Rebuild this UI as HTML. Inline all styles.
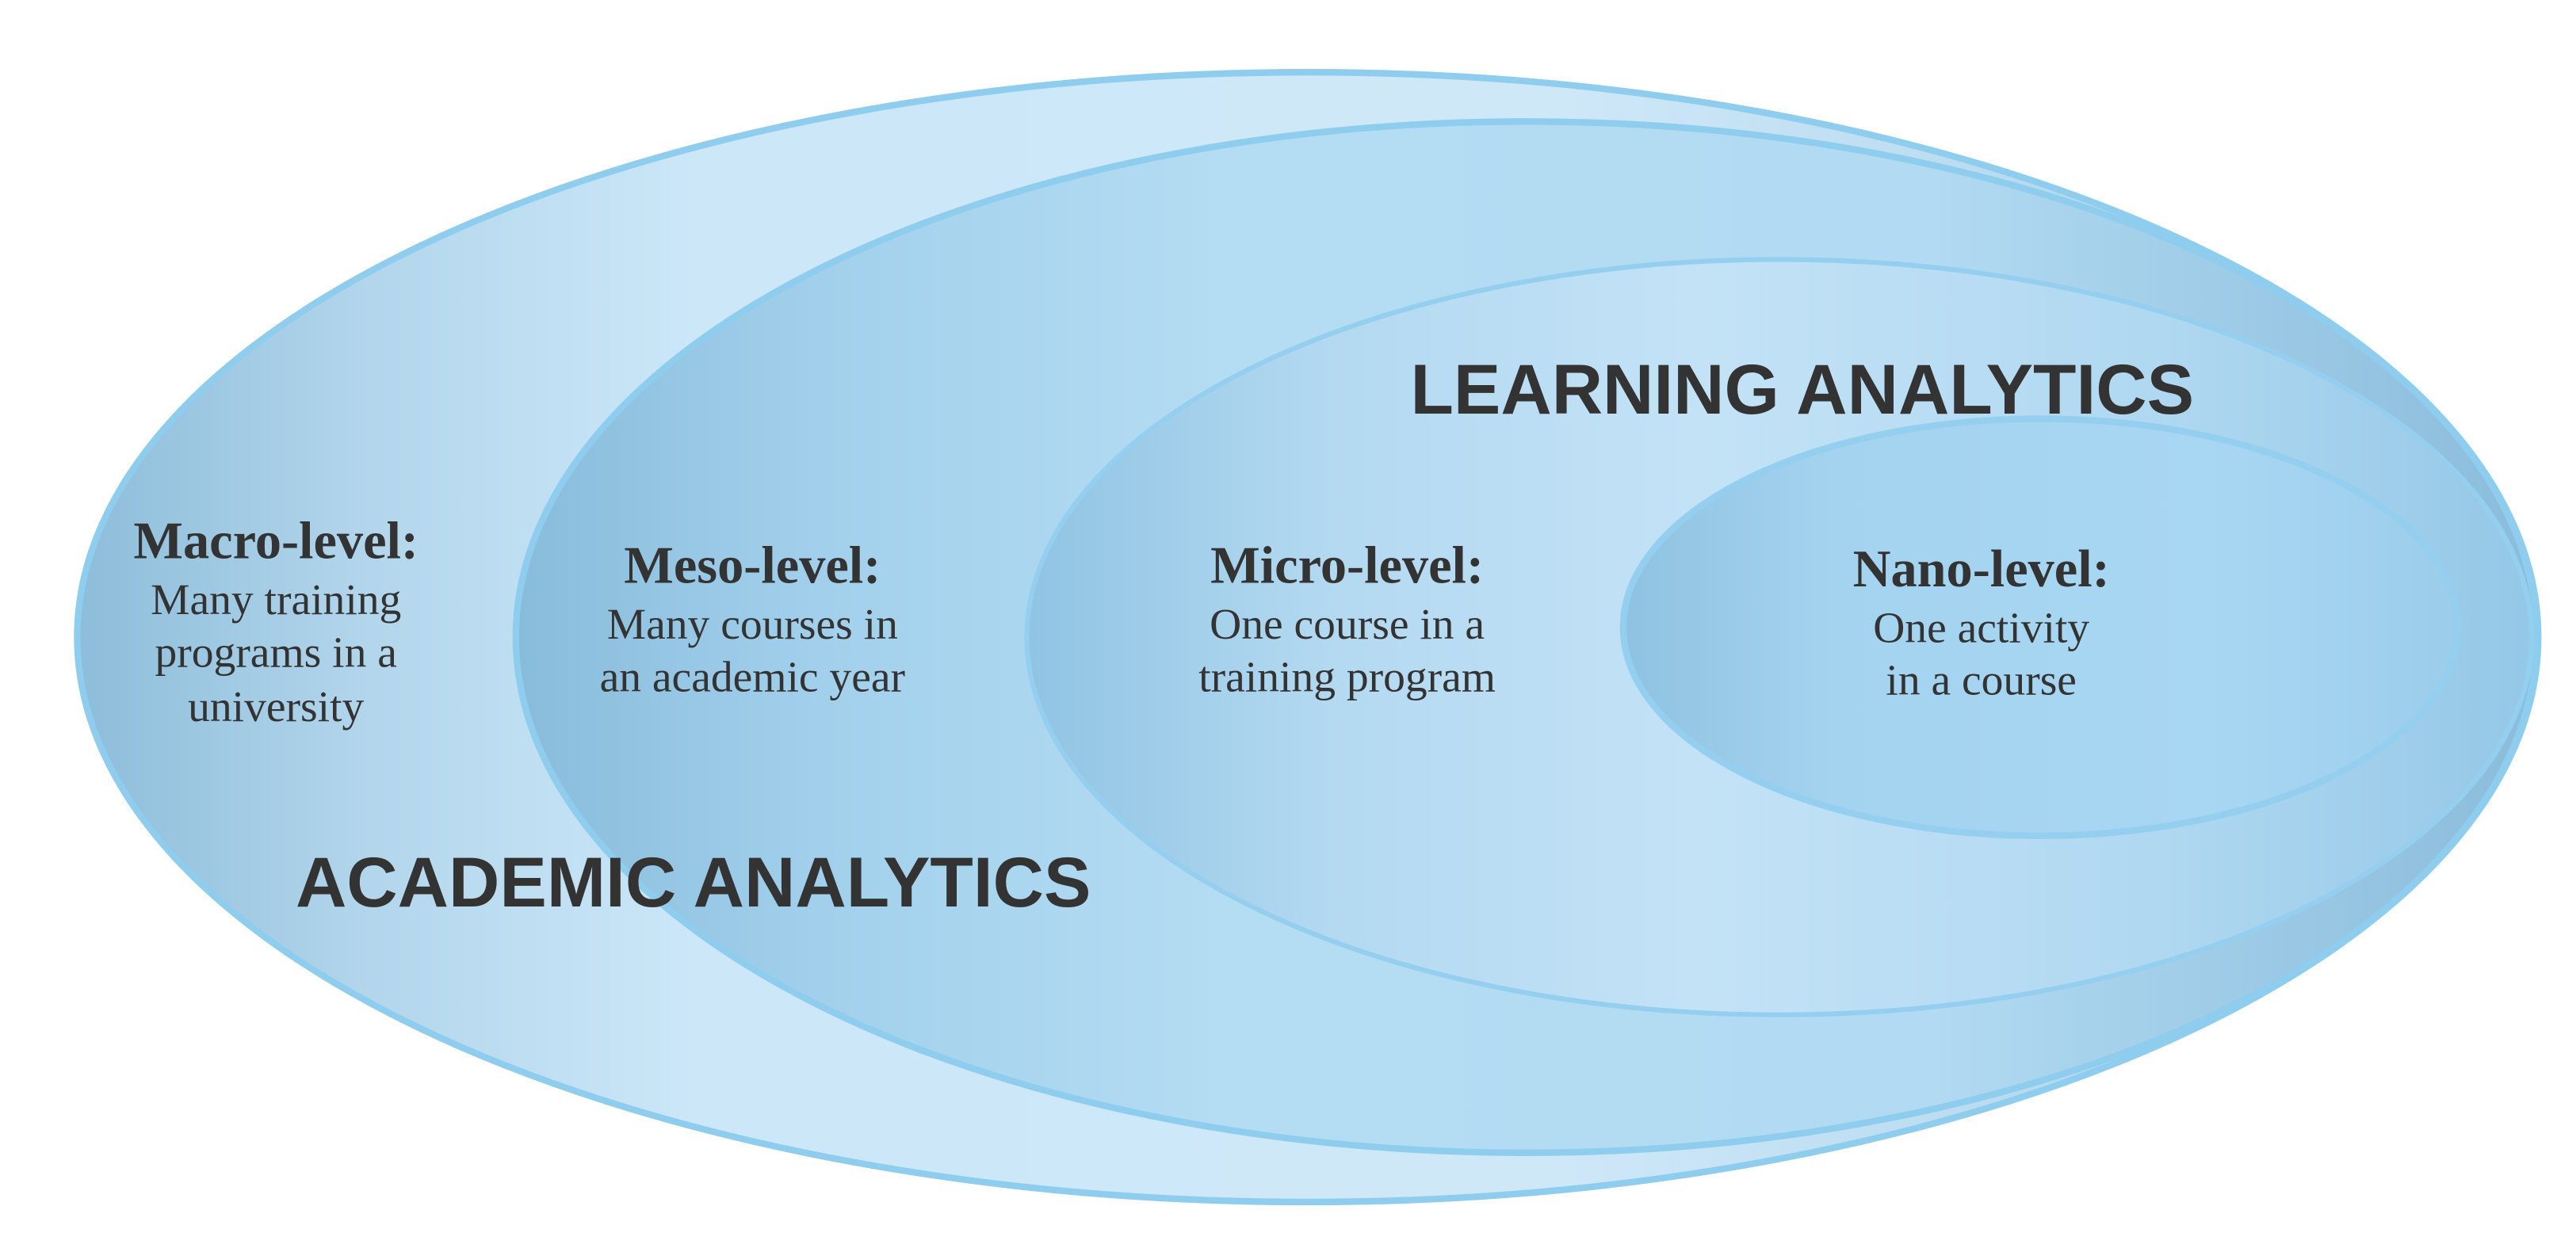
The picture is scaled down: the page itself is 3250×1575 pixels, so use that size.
<!DOCTYPE html>
<html><head><meta charset="utf-8"><style>
html,body{margin:0;padding:0;background:#fff;}
svg{display:block;}
</style></head><body>
<svg width="3250" height="1575" viewBox="0 0 1568 760" preserveAspectRatio="none" xmlns="http://www.w3.org/2000/svg">
<defs>
<linearGradient id="g1" x1="0" y1="0" x2="1" y2="0">
<stop offset="0" stop-color="#8dbdda"/><stop offset="0.12" stop-color="#b3d6ec"/><stop offset="0.25" stop-color="#cbe7f8"/><stop offset="0.6" stop-color="#cfe8f8"/><stop offset="1" stop-color="#9fcbe6"/>
</linearGradient>
<linearGradient id="g2" x1="0" y1="0" x2="1" y2="0">
<stop offset="0" stop-color="#88bcdb"/><stop offset="0.15" stop-color="#a2d0ec"/><stop offset="0.35" stop-color="#b4dcf3"/><stop offset="0.7" stop-color="#b2daf2"/><stop offset="1" stop-color="#8abcdb"/>
</linearGradient>
<linearGradient id="g3" x1="0" y1="0" x2="1" y2="0">
<stop offset="0" stop-color="#90c4e3"/><stop offset="0.2" stop-color="#b3d9f1"/><stop offset="0.45" stop-color="#c3e2f6"/><stop offset="0.75" stop-color="#b0d8f1"/><stop offset="1" stop-color="#94c8e7"/>
</linearGradient>
<linearGradient id="g4" x1="0" y1="0" x2="1" y2="0">
<stop offset="0" stop-color="#8fc2e1"/><stop offset="0.25" stop-color="#a4d3ef"/><stop offset="0.7" stop-color="#a8d7f3"/><stop offset="1" stop-color="#9bcdeb"/>
</linearGradient>
</defs>
<ellipse cx="796" cy="388" rx="749" ry="344" fill="url(#g1)" stroke="#8ecdee" stroke-width="4"/>
<ellipse cx="929" cy="388" rx="615" ry="314" fill="url(#g2)" stroke="#8ecdee" stroke-width="4"/>
<ellipse cx="1083" cy="388" rx="458" ry="230" fill="url(#g3)" stroke="#95cff0" stroke-width="3"/>
<ellipse cx="1242" cy="382" rx="254" ry="127" fill="url(#g4)" stroke="#95cff0" stroke-width="4"/>
<g font-family="Liberation Sans, sans-serif" font-weight="bold" font-size="43" fill="#333">
<text x="1097" y="252" text-anchor="middle">LEARNING ANALYTICS</text>
<text x="422" y="552" text-anchor="middle">ACADEMIC ANALYTICS</text>
</g>
<g font-family="Liberation Serif, serif" fill="#333" text-anchor="middle">
<text x="168" y="340" font-size="32" font-weight="bold">Macro-level:</text>
<text x="168" y="374" font-size="26.8">Many training</text>
<text x="168" y="406" font-size="26.8">programs in a</text>
<text x="168" y="439" font-size="26.8">university</text>
<text x="458" y="355" font-size="32" font-weight="bold">Meso-level:</text>
<text x="458" y="389" font-size="26.8">Many courses in</text>
<text x="458" y="421" font-size="26.8">an academic year</text>
<text x="820" y="355" font-size="32" font-weight="bold">Micro-level:</text>
<text x="820" y="389" font-size="26.8">One course in a</text>
<text x="820" y="421" font-size="26.8">training program</text>
<text x="1206" y="357" font-size="32" font-weight="bold">Nano-level:</text>
<text x="1206" y="391" font-size="26.8">One activity</text>
<text x="1206" y="423" font-size="26.8">in a course</text>
</g>
</svg>
</body></html>
